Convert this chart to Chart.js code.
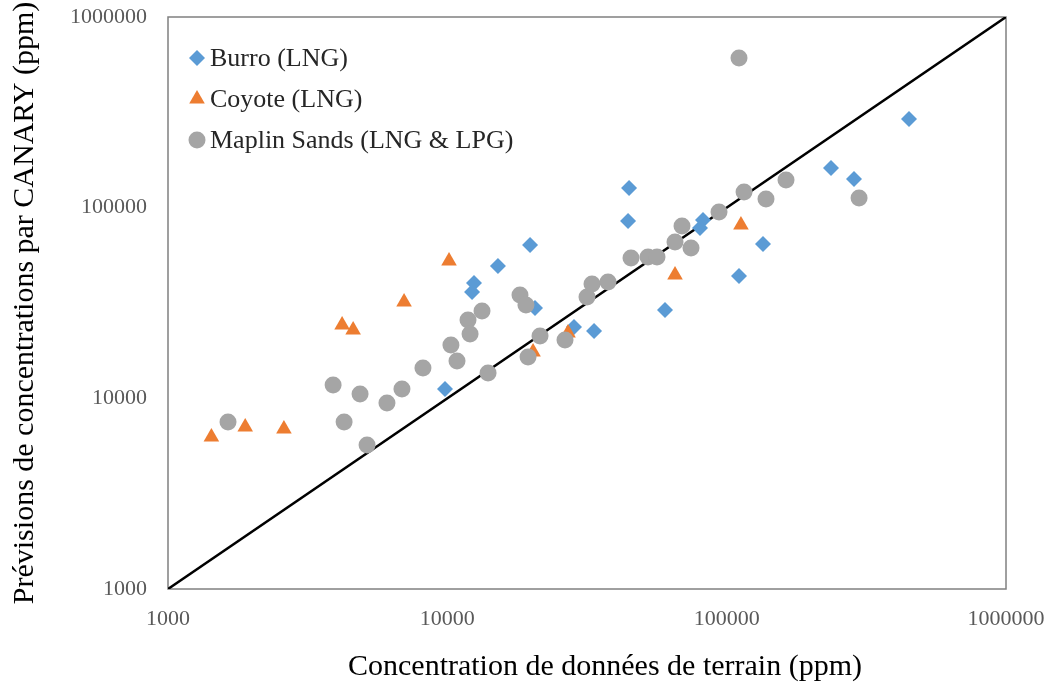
<!DOCTYPE html>
<html>
<head>
<meta charset="utf-8">
<script src="https://cdn.jsdelivr.net/npm/chart.js@4.4.1/dist/chart.umd.min.js"></script>
<style>
  html, body { margin: 0; padding: 0; background: #fff; }
</style>
</head>
<body>
<canvas id="chart" width="1052" height="685"></canvas>
<script>
// values (ppm)
const burroX = [449600, 236300, 285700, 44720, 44350, 82290, 80270, 19780, 134900, 15180, 12460, 12260, 20600, 60160, 28410, 33510, 110700, 9810];
const burroY = [291700, 161400, 141300, 126800, 85120, 86150, 78230, 63730, 64500, 49430, 40260, 36100, 29770, 29060, 23670, 22550, 43800, 11190];

const coyoteX = [1430, 1890, 2600, 4200, 4600, 7000, 10140, 20270, 27040, 65330, 112500];
const coyoteY = [6270, 7080, 6910, 24250, 22830, 32000, 52520, 17500, 22020, 44340, 81120];

const maplinX = [1640, 3900, 4270, 4870, 5160, 6080, 6880, 8180, 10300, 10830, 11860, 12060, 13310, 13990, 18200, 19120, 19450, 21470, 26380, 31620, 32960, 37610, 45460, 52300, 56310, 65330, 69210, 74530, 93890, 115400, 138300, 163100, 297800, 110700];
const maplinY = [7520, 11750, 7520, 10540, 5690, 9450, 11190, 14420, 19050, 15700, 25760, 21750, 28710, 13580, 34830, 30860, 16480, 21230, 20230, 34000, 39780, 40750, 54450, 55100, 55100, 66070, 80150, 61450, 94900, 120800, 111000, 139600, 112300, 609500];

const seriesNames = ['Burro (LNG)', 'Coyote (LNG)', 'Maplin Sands (LNG & LPG)'];
const decadeTicks = [1000, 10000, 100000, 1000000];
const parityLine = [1000, 1000000];

const xTitle = 'Concentration de données de terrain (ppm)';
const yTitle = 'Prévisions de concentrations par CANARY (ppm)';

function zip(xs, ys) {
    return xs.map((x, i) => ({ x: x, y: ys[i] }));
}

// frame, inner legend and x title
const extras = {
    id: 'extras',
    beforeDatasetsDraw(chart) {
        const { ctx, chartArea: a } = chart;
        ctx.save();
        ctx.strokeStyle = '#808080';
        ctx.lineWidth = 1.5;
        ctx.strokeRect(a.left, a.top, a.right - a.left, a.bottom - a.top);
        ctx.restore();
    },
    afterDatasetsDraw(chart) {
        const { ctx, chartArea: a } = chart;
        ctx.save();
        ctx.font = '26px "Liberation Serif", "Times New Roman", serif';
        ctx.textBaseline = 'middle';
        let row = 0;
        chart.data.datasets.forEach(ds => {
            if (!ds.inLegend) return;
            const y = a.top + 41 + row * 41;
            ctx.fillStyle = ds.backgroundColor;
            Chart.helpers.drawPoint(ctx, { pointStyle: ds.pointStyle, radius: ds.pointRadius, rotation: 0, borderWidth: 0 }, a.left + 29, y);
            ctx.fillStyle = '#262626';
            ctx.fillText(ds.label, a.left + 42, y + 1);
            row++;
        });
        ctx.font = '30px "Liberation Serif", "Times New Roman", serif';
        ctx.fillStyle = '#000';
        ctx.textAlign = 'center';
        ctx.fillText(xTitle, (a.left + a.right) / 2 + 18, 667);
        ctx.restore();
    }
};

const tickFont = { family: '"Liberation Serif", "Times New Roman", serif', size: 22 };

new Chart(document.getElementById('chart'), {
    type: 'scatter',
    data: {
        datasets: [
            {
                label: seriesNames[0],
                data: zip(burroX, burroY),
                pointStyle: 'rectRot',
                pointRadius: 8,
                pointHoverRadius: 8,
                pointBorderWidth: 0,
                backgroundColor: '#5B9BD5',
                borderColor: '#5B9BD5',
                inLegend: true,
                order: 3
            },
            {
                label: seriesNames[1],
                data: zip(coyoteX, coyoteY),
                pointStyle: 'triangle',
                pointRadius: 9,
                pointHoverRadius: 9,
                pointBorderWidth: 0,
                backgroundColor: '#ED7D31',
                borderColor: '#ED7D31',
                inLegend: true,
                order: 2
            },
            {
                label: seriesNames[2],
                data: zip(maplinX, maplinY),
                pointStyle: 'circle',
                pointRadius: 8.5,
                pointHoverRadius: 8.5,
                pointBorderWidth: 0,
                backgroundColor: '#A5A5A5',
                borderColor: '#A5A5A5',
                inLegend: true,
                order: 1
            },
            {
                type: 'line',
                label: 'y = x',
                data: zip(parityLine, parityLine),
                showLine: true,
                borderColor: '#000',
                borderWidth: 2.5,
                pointRadius: 0,
                fill: false,
                inLegend: false,
                order: 4
            }
        ]
    },
    options: {
        responsive: false,
        animation: false,
        layout: { padding: { left: 0, right: 46, top: 17, bottom: 0 } },
        plugins: {
            legend: { display: false },
            tooltip: { enabled: false }
        },
        scales: {
            x: {
                type: 'logarithmic',
                min: 1000,
                max: 1000000,
                afterBuildTicks: scale => { scale.ticks = decadeTicks.map(v => ({ value: v })); },
                afterFit: scale => {
                    scale.height = 96;
                    scale.paddingLeft = 0;
                    scale.paddingRight = 0;
                },
                grid: { display: false, drawTicks: false },
                border: { display: false },
                ticks: {
                    autoSkip: false,
                    maxRotation: 0,
                    padding: 17,
                    color: '#595959',
                    font: tickFont,
                    callback: v => String(v)
                }
            },
            y: {
                type: 'logarithmic',
                min: 1000,
                max: 1000000,
                afterBuildTicks: scale => { scale.ticks = decadeTicks.map(v => ({ value: v })); },
                afterFit: scale => {
                    scale.width = 168;
                    scale.paddingTop = 0;
                    scale.paddingBottom = 0;
                },
                grid: { display: false, drawTicks: false },
                border: { display: false },
                ticks: {
                    autoSkip: false,
                    padding: 21,
                    color: '#595959',
                    font: tickFont,
                    callback: v => String(v)
                },
                title: {
                    display: true,
                    text: yTitle,
                    color: '#000',
                    font: { family: '"Liberation Serif", "Times New Roman", serif', size: 30 },
                    padding: { top: 7, bottom: 0 }
                }
            }
        }
    },
    plugins: [extras]
});
</script>
</body>
</html>
